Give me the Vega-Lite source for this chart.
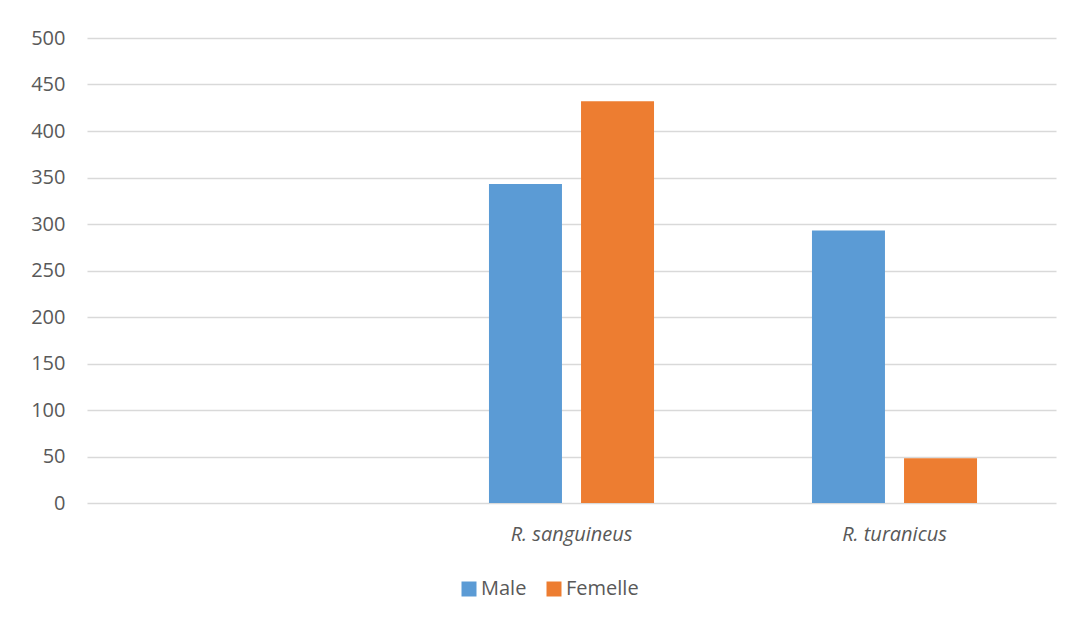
{
  "$schema": "https://vega.github.io/schema/vega-lite/v6.json",
  "width": 969,
  "height": 465,
  "autosize": {"type": "none"},
  "padding": {"left": 87, "top": 38, "right": 19, "bottom": 120},
  "background": "white",
  "config": {
    "view": {"stroke": null},
    "font": "Open Sans"
  },
  "data": {
    "values": [
      {"espece": "R. sanguineus", "sexe": "Male", "nombre": 343},
      {"espece": "R. sanguineus", "sexe": "Femelle", "nombre": 432},
      {"espece": "R. turanicus", "sexe": "Male", "nombre": 293},
      {"espece": "R. turanicus", "sexe": "Femelle", "nombre": 48}
    ]
  },
  "mark": {"type": "bar"},
  "encoding": {
    "x": {
      "field": "espece",
      "type": "nominal",
      "scale": {"domain": [" ", "R. sanguineus", "R. turanicus"], "paddingInner": 0.489, "paddingOuter": 0.2445},
      "axis": {
        "title": null,
        "labelAngle": 0,
        "labelFontStyle": "italic",
        "labelFontSize": 20,
        "labelColor": "#595959",
        "labelPadding": 21,
        "ticks": false,
        "domain": false,
        "grid": false
      }
    },
    "xOffset": {
      "field": "sexe",
      "type": "nominal",
      "sort": ["Male", "Femelle"],
      "scale": {"paddingInner": 0.207, "paddingOuter": 0}
    },
    "y": {
      "field": "nombre",
      "type": "quantitative",
      "scale": {"domain": [0, 500]},
      "axis": {
        "title": null,
        "values": [0, 50, 100, 150, 200, 250, 300, 350, 400, 450, 500],
        "labelFontSize": 20,
        "labelColor": "#595959",
        "labelPadding": 22,
        "ticks": false,
        "domain": false,
        "grid": true,
        "gridColor": "#d9d9d9",
        "gridWidth": 1.5
      }
    },
    "color": {
      "field": "sexe",
      "type": "nominal",
      "sort": ["Male", "Femelle"],
      "scale": {"domain": ["Male", "Femelle"], "range": ["#5b9bd5", "#ed7d31"]},
      "legend": {
        "title": null,
        "orient": "none",
        "direction": "horizontal",
        "legendX": 372,
        "legendY": 541,
        "symbolType": "square",
        "symbolSize": 225,
        "symbolStrokeWidth": 0,
        "labelFontSize": 20,
        "labelColor": "#595959",
        "labelOffset": 2,
        "columnPadding": 17
      }
    }
  }
}
